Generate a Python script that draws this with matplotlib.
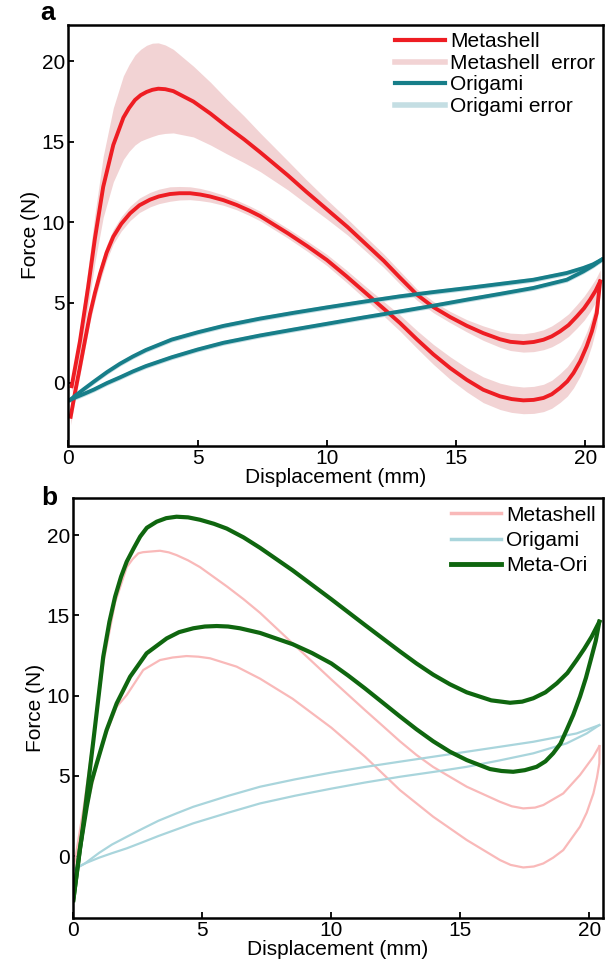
import matplotlib
matplotlib.use("Agg")
import matplotlib.pyplot as plt
from matplotlib.lines import Line2D

plt.rcParams['font.family'] = ['Liberation Sans', 'DejaVu Sans']

# ---- panel a : measured curves ----
# Metashell, loading branch (upper loop)
ms_load_x = [0.13, 0.45, 0.77, 1.03, 1.35, 1.74, 2.13, 2.35, 2.58, 2.8, 3.03, 3.25, 3.48, 3.75, 4.06,
             4.84, 5.5, 6.13, 6.8, 7.42, 8.5, 9.2, 10.0, 10.8, 11.5, 12.2, 12.83, 13.48, 14.12, 14.77,
             15.41, 16.05, 16.7, 17.1, 17.6, 18.0, 18.38, 18.7, 19.02, 19.35, 19.67, 19.95, 20.18,
             20.4, 20.57]
ms_load_y = [-0.2, 2.6, 6.0, 9.0, 12.2, 14.8, 16.5, 17.1, 17.6, 17.9, 18.1, 18.23, 18.3, 18.27, 18.15,
             17.5, 16.75, 15.95, 15.15, 14.35, 12.9, 11.9, 10.8, 9.7, 8.65, 7.6, 6.55, 5.5, 4.72, 4.1,
             3.56, 3.1, 2.72, 2.56, 2.49, 2.55, 2.69, 2.9, 3.21, 3.6, 4.14, 4.65, 5.18,
             5.75, 6.32]
ms_load_err = [0.4, 0.8, 1.2, 1.5, 1.9, 2.3, 2.6, 2.7, 2.8, 2.85, 2.9, 2.9, 2.85, 2.75, 2.6,
               2.2, 1.95, 1.7, 1.45, 1.2, 0.9, 0.75, 0.6, 0.5, 0.45, 0.42, 0.4, 0.35, 0.35, 0.35,
               0.38, 0.45, 0.5, 0.54, 0.57, 0.6, 0.62, 0.65, 0.68, 0.7, 0.73, 0.75, 0.75,
               0.72, 0.7]

# Metashell, unloading branch (lower loop)
ms_unload_x = [0.09, 0.27, 0.45, 0.65, 0.84, 1.03, 1.23, 1.48, 1.74, 2.05, 2.39, 2.75, 3.16, 3.5, 3.93,
               4.3, 4.71, 5.1, 5.48, 6.0, 6.51, 7.0, 7.42, 8.5, 9.25, 10.0, 10.75, 11.5, 12.2, 12.83,
               13.48, 14.12, 14.77, 15.41, 16.05, 16.7, 17.15, 17.6, 18.0, 18.38, 18.7, 19.02, 19.3,
               19.54, 19.8, 20.05, 20.25, 20.44, 20.57]
ms_unload_y = [-2.1, -0.5, 1.0, 2.7, 4.3, 5.6, 6.8, 8.1, 9.1, 9.9, 10.55, 11.05, 11.4, 11.6, 11.75,
               11.8, 11.8, 11.72, 11.6, 11.37, 11.07, 10.72, 10.38, 9.3, 8.5, 7.65, 6.65, 5.6, 4.62, 3.73,
               2.72, 1.78, 0.93, 0.2, -0.42, -0.83, -1.0, -1.08, -1.05, -0.93, -0.7, -0.31, 0.1,
               0.62, 1.35, 2.28, 3.2, 4.35, 6.3]
ms_unload_err = [0.5, 0.5, 0.5, 0.5, 0.5, 0.5, 0.5, 0.48, 0.45, 0.45, 0.45, 0.45, 0.45, 0.45, 0.45,
                 0.42, 0.4, 0.38, 0.35, 0.32, 0.3, 0.3, 0.3, 0.3, 0.32, 0.35, 0.38, 0.4, 0.45, 0.5,
                 0.55, 0.62, 0.7, 0.75, 0.8, 0.82, 0.83, 0.83, 0.84, 0.85, 0.87, 0.9, 0.92,
                 0.93, 0.92, 0.9, 0.85, 0.8, 0.7]

# Origami, two branches
ori_up_x = [0.07, 0.3, 0.6, 1.0, 1.5, 2.0, 2.5, 3.0, 4.0, 5.0, 6.0, 7.4, 8.7, 10.0, 11.4, 12.83,
            14.1, 15.41, 16.7, 17.99, 19.28, 19.92, 20.3, 20.63]
ori_up_y = [-1.05, -0.75, -0.38, 0.1, 0.68, 1.2, 1.65, 2.05, 2.7, 3.15, 3.55, 4.0, 4.36, 4.7, 5.05, 5.39,
            5.65, 5.9, 6.16, 6.42, 6.84, 7.15, 7.38, 7.67]
ori_lo_x = [0.07, 0.3, 0.6, 1.0, 1.5, 2.0, 2.5, 3.0, 4.0, 5.0, 6.0, 7.4, 8.7, 10.0, 11.4, 12.83,
            14.1, 15.41, 16.7, 17.99, 19.28, 19.92, 20.3, 20.63]
ori_lo_y = [-1.05, -0.88, -0.68, -0.4, 0.0, 0.35, 0.72, 1.05, 1.6, 2.08, 2.5, 2.95, 3.32, 3.68, 4.07, 4.45,
            4.8, 5.18, 5.54, 5.91, 6.42, 6.94, 7.3, 7.67]
ori_err = 0.15

# ---- panel b ----
mo_load_x = [0.0, 0.39, 0.78, 1.16, 1.4, 1.62, 1.85, 2.07, 2.35, 2.59, 2.85, 3.23, 3.6, 4.0, 4.45, 4.91,
             5.45, 5.95, 6.6, 7.24, 8.5, 9.25, 10.0, 10.65, 11.3, 12.0, 12.66, 13.3, 13.95, 14.6,
             15.25, 16.2, 16.93, 17.4, 17.83, 18.3, 18.74, 19.15, 19.51, 19.8, 20.09, 20.39]
mo_load_y = [-2.74, 2.04, 7.23, 12.42, 14.6, 16.16, 17.4, 18.34, 19.2, 19.9, 20.45, 20.83, 21.05, 21.14, 21.1,
             20.95, 20.7, 20.4, 19.85, 19.2, 17.8, 16.9, 16.0, 15.2, 14.4, 13.55, 12.75, 12.0, 11.3, 10.7,
             10.2, 9.7, 9.55, 9.62, 9.83, 10.2, 10.76, 11.4, 12.21, 12.9, 13.66, 14.6]
mo_unload_x = [0.0, 0.25, 0.52, 0.7, 0.91, 1.29, 1.68, 2.2, 2.84, 3.62, 4.1, 4.65, 5.1, 5.56, 6.0, 6.46,
               7.24, 8.5, 9.25, 10.0, 10.65, 11.3, 12.0, 12.66, 13.3, 13.95, 14.6, 15.25, 16.15, 16.6,
               17.05, 17.5, 17.96, 18.3, 18.6, 18.88, 19.12, 19.38, 19.64, 19.87, 20.09, 20.25, 20.39]
mo_unload_y = [-2.74, 0.4, 3.07, 4.6, 5.78, 7.85, 9.51, 11.17, 12.63, 13.56, 13.95, 14.19, 14.3, 14.33, 14.3, 14.19,
               13.9, 13.2, 12.65, 12.0, 11.25, 10.45, 9.55, 8.7, 7.9, 7.15, 6.5, 5.98, 5.42, 5.3,
               5.25, 5.35, 5.56, 5.9, 6.4, 7.0, 7.85, 8.8, 9.93, 11.1, 12.42, 13.4, 14.6]

msb_load_x = [0.0, 0.4, 0.8, 1.16, 1.62, 2.07, 2.3, 2.52, 2.7, 2.91, 3.36, 3.7, 4.0, 4.45, 4.91, 5.95,
              6.6, 7.24, 8.5, 10.0, 11.3, 12.0, 12.66, 13.3, 13.95, 15.25, 16.54, 17.0, 17.44, 17.9,
              18.22, 18.99, 19.64, 20.16, 20.39]
msb_load_y = [-0.9, 3.0, 7.6, 12.0, 15.8, 18.0, 18.5, 18.86, 18.93, 18.96, 19.02, 18.92, 18.75, 18.42, 18.0, 16.8,
              16.0, 15.15, 13.25, 11.0, 9.1, 8.1, 7.15, 6.3, 5.55, 4.32, 3.38, 3.1, 2.97, 3.02,
              3.18, 3.9, 5.05, 6.19, 6.85]
msb_unload_x = [0.0, 0.52, 0.91, 1.29, 1.68, 2.07, 2.71, 3.36, 3.85, 4.39, 4.85, 5.3, 6.33, 7.24, 8.5,
                10.0, 11.3, 12.66, 13.95, 15.25, 16.54, 16.95, 17.44, 17.85, 18.22, 18.6, 18.99,
                19.64, 19.9, 20.16, 20.3, 20.39, 20.4]
msb_unload_y = [-2.5, 3.0, 5.7, 7.7, 9.3, 10.03, 11.59, 12.21, 12.37, 12.46, 12.42, 12.32, 11.8, 11.05, 9.8,
                8.0, 6.2, 4.11, 2.45, 1.0, -0.25, -0.55, -0.71, -0.65, -0.46, -0.1, 0.37,
                1.83, 2.7, 3.9, 4.9, 5.78, 6.85]

orib_up_x = [0.0, 0.45, 1.0, 1.5, 2.07, 2.7, 3.3, 4.0, 4.65, 6.0, 7.24, 8.6, 10.0, 11.3, 12.66, 14.0,
             15.25, 16.5, 17.83, 19.51, 20.39]
orib_up_y = [-0.85, -0.46, 0.2, 0.72, 1.2, 1.72, 2.2, 2.66, 3.07, 3.75, 4.32, 4.78, 5.2, 5.55, 5.88, 6.2,
             6.5, 6.8, 7.12, 7.64, 8.16]
orib_lo_x = [0.0, 0.45, 1.0, 1.5, 2.07, 2.7, 3.3, 4.0, 4.65, 6.0, 7.24, 8.6, 10.0, 11.3, 12.66, 14.0,
             15.25, 16.5, 17.83, 19.12, 19.9, 20.39]
orib_lo_y = [-0.85, -0.46, -0.1, 0.18, 0.48, 0.87, 1.25, 1.66, 2.04, 2.7, 3.28, 3.76, 4.2, 4.58, 4.94, 5.25,
             5.56, 5.95, 6.4, 7.02, 7.64, 8.16]

ticks = [0, 5, 10, 15, 20]

red = '#EE1D23'
red_band = '#F2D3D4'
teal = '#177E89'
teal_band = '#C4DEE3'
pink = '#F9B9B9'
lblue = '#A9D5DC'
green = '#0F660F'

FS = 15

fig = plt.figure(figsize=(6.11, 9.66), dpi=100)
ax1 = fig.add_axes([0.1118, 0.5386, 0.8746, 0.4355])
ax2 = fig.add_axes([0.1200, 0.0500, 0.8664, 0.4342])


def style(ax, xmax, ymin, ymax):
    ax.set_xlim(0, xmax)
    ax.set_ylim(ymin, ymax)
    ax.set_xticks(ticks)
    ax.set_yticks(ticks)
    ax.tick_params(direction='in', length=4, width=1.3, labelsize=FS, pad=2.5)
    for s in ax.spines.values():
        s.set_linewidth(1.8)
    ax.set_xlabel('Displacement (mm)', fontsize=FS, labelpad=0)
    ax.set_ylabel('Force (N)', fontsize=FS, labelpad=1)


# panel a
lo = [y - e for y, e in zip(ms_load_y, ms_load_err)]
hi = [y + e for y, e in zip(ms_load_y, ms_load_err)]
ax1.fill_between(ms_load_x, lo, hi, color=red_band, lw=0)
lo = [y - e for y, e in zip(ms_unload_y, ms_unload_err)]
hi = [y + e for y, e in zip(ms_unload_y, ms_unload_err)]
ax1.fill_between(ms_unload_x, lo, hi, color=red_band, lw=0)
ax1.fill_between(ori_up_x, [y - ori_err for y in ori_up_y], [y + ori_err for y in ori_up_y],
                 color=teal_band, lw=0)
ax1.fill_between(ori_lo_x, [y - ori_err for y in ori_lo_y], [y + ori_err for y in ori_lo_y],
                 color=teal_band, lw=0)
ax1.plot(ms_load_x, ms_load_y, color=red, lw=2.8, solid_joinstyle='round')
ax1.plot(ms_unload_x, ms_unload_y, color=red, lw=2.8, solid_joinstyle='round')
ax1.plot(ori_up_x, ori_up_y, color=teal, lw=2.8, solid_joinstyle='round')
ax1.plot(ori_lo_x, ori_lo_y, color=teal, lw=2.8, solid_joinstyle='round')
style(ax1, 20.67, -3.9, 22.26)

handles = [Line2D([], [], color=red, lw=3),
           Line2D([], [], color=red_band, lw=4),
           Line2D([], [], color=teal, lw=3),
           Line2D([], [], color=teal_band, lw=4)]
ax1.legend(handles, ['Metashell', 'Metashell  error', 'Origami', 'Origami error'],
           loc='upper right', frameon=False, fontsize=FS, handlelength=2.4,
           handletextpad=0.25, labelspacing=0.12, borderaxespad=0.15, borderpad=0.2)

# panel b
ax2.plot(msb_load_x, msb_load_y, color=pink, lw=1.6, solid_joinstyle='round')
ax2.plot(msb_unload_x, msb_unload_y, color=pink, lw=1.6, solid_joinstyle='round')
ax2.plot(orib_up_x, orib_up_y, color=lblue, lw=1.6, solid_joinstyle='round')
ax2.plot(orib_lo_x, orib_lo_y, color=lblue, lw=1.6, solid_joinstyle='round')
ax2.plot(mo_load_x, mo_load_y, color=green, lw=3, solid_joinstyle='round')
ax2.plot(mo_unload_x, mo_unload_y, color=green, lw=3, solid_joinstyle='round')
style(ax2, 20.52, -3.84, 22.29)

handles = [Line2D([], [], color=pink, lw=2.5),
           Line2D([], [], color=lblue, lw=2.5),
           Line2D([], [], color=green, lw=3.5)]
ax2.legend(handles, ['Metashell', 'Origami', 'Meta-Ori'],
           loc='upper right', frameon=False, fontsize=FS, handlelength=2.4,
           handletextpad=0.25, labelspacing=0.3, borderaxespad=0.15, borderpad=0.2)

fig.text(48 / 611, 1 - 20 / 966, 'a', fontsize=19, fontweight='bold', ha='center', va='baseline')
fig.text(49 / 611, 1 - 505 / 966, 'b', fontsize=19, fontweight='bold', ha='center', va='baseline')

fig.savefig('out.png', dpi=100)
